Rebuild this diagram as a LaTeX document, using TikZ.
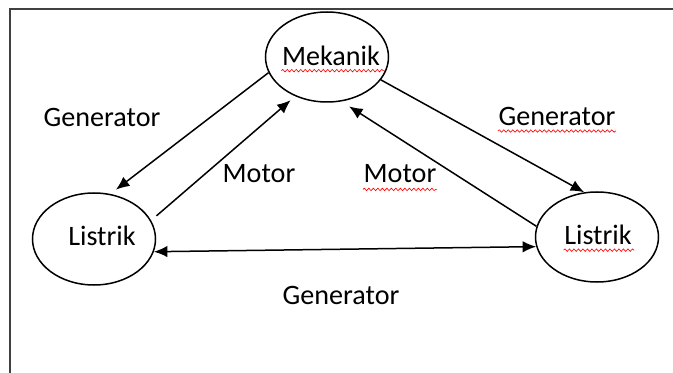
\documentclass[tikz,border=0pt]{standalone}
\usepackage{fontspec}
\setmainfont{Carlito}
\usetikzlibrary{
		arrows.meta,
		shapes.geometric,
		decorations.pathmorphing
	}
\tikzset{
		>={Latex[length=2.7mm,width=2.3mm]},
		energi/.style={draw, ellipse, minimum width=24.6mm, minimum height=18mm, inner sep=0pt},
		ket/.style={inner sep=0pt},
		salah/.style={red, line width=0.35pt, decorate,
			decoration={snake, segment length=0.9mm, amplitude=0.25mm}}
	}

\begin{document}
\begin{tikzpicture}[x=0.2mm, y=-0.2mm, line width=0.3mm, font=\fontsize{16}{19}\selectfont]
          \useasboundingbox (0,0) rectangle (673,373);
          \draw[line width=0.4mm, black!75] (10,373) -- (10,9) -- (673,9);

          \node[energi, label={[ket, name=mekT, xshift=0.8mm, yshift=0.2mm]center:Mekanik}] (mek) at (327,57) {};
          \node[energi, minimum height=18.4mm, label={[ket, name=lisLT, xshift=1.6mm, yshift=0.6mm]center:Listrik}] (lisL) at (94,239) {};
          \node[energi, label={[ket, name=lisRT, xshift=0.2mm, yshift=0.4mm]center:Listrik}] (lisR) at (597,237) {};

          \node[ket] (genA) at (102,117) {Generator};
          \node[ket] (motA) at (259,174) {Motor};
          \node[ket] (motB) at (400,174) {Motor};
          \node[ket] (genB) at (557,116) {Generator};
          \node[ket] (genC) at (341,295) {Generator};

          \draw[->, shorten >=1.4mm] (mek.195) -- (lisL.70);
          \draw[->, shorten <=1.4mm, shorten >=1.2mm] (lisL.18) -- (mek.231);
          \draw[->, shorten >=1.8mm] (lisR.170) -- (mek.288);
          \draw[->] (mek.337) -- (lisR.106);
          \draw[<->] (lisL.348) -- (lisR.189);

          % spelling marks
          \draw[salah] ([yshift=-1mm]mekT.base west) -- ([xshift=0.8mm,yshift=-1mm]mekT.base east);
          \draw[salah] ([yshift=-1.1mm]lisRT.base west) -- ([xshift=0.4mm,yshift=-1.1mm]lisRT.base east);
          \draw[salah] ([yshift=-1.3mm]motB.base west) -- ([yshift=-1.3mm]motB.base east);
          \draw[salah] ([yshift=-1.2mm]genB.base west) -- ([yshift=-1.2mm]genB.base east);

          \end{tikzpicture}
\end{document}
